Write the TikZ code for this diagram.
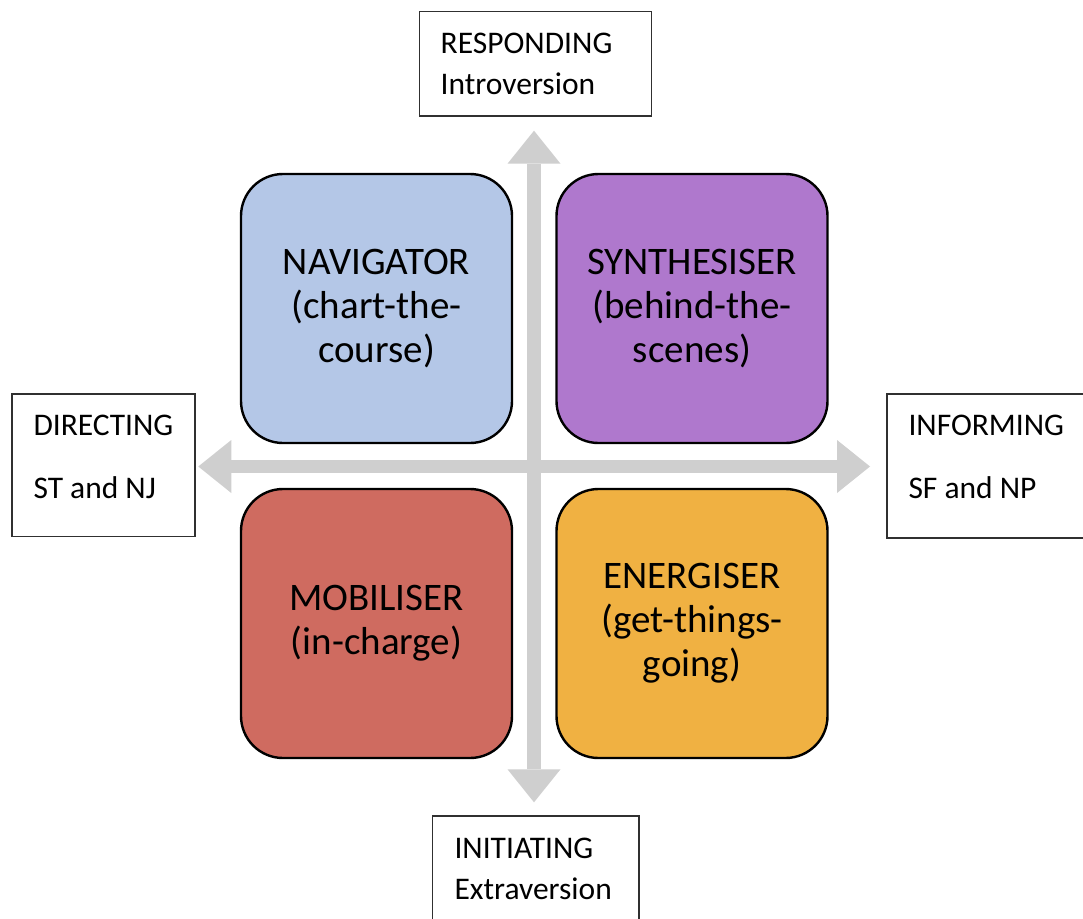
\documentclass[tikz,border=0pt]{standalone}
\usepackage{fontspec}
\setmainfont{Carlito}
\usetikzlibrary{arrows.meta}
\definecolor{navblue}{HTML}{B4C7E7}
\definecolor{synpurple}{HTML}{AF78CD}
\definecolor{mobred}{HTML}{CF6B60}
\definecolor{eneorange}{HTML}{F0B142}
\definecolor{axisgray}{HTML}{CFCFCF}
\definecolor{boxborder}{HTML}{303030}
\begin{document}
\begin{tikzpicture}[x=1pt,y=-1pt,
  rolebox/.style={draw=black,line width=2.4pt,rounded corners=42pt,
    minimum width=271pt,minimum height=269pt,inner sep=0pt,align=center,
    font=\fontsize{39}{44}\selectfont},
  labelbox/.style={draw=boxborder,line width=1.2pt,inner sep=0pt},
  labeltext/.style={anchor=base west,inner sep=0pt,font=\fontsize{31.5}{35}\selectfont},
  axis/.style={draw=axisgray,line width=13.5pt,
    {Triangle[width=53pt,length=33pt,line width=0pt]}-{Triangle[width=53pt,length=33pt,line width=0pt]}}
]
\useasboundingbox (0,0) rectangle (1083,918);
\fill[white] (0,0) rectangle (1083,918);

% axes
\coordinate (vtop) at (534,130.7);
\coordinate (vbot) at (534,802.3);
\coordinate (hleft) at (198.3,466.5);
\coordinate (hright) at (870,466.5);
\draw[axis] (vtop) -- (vbot);
\draw[axis] (hleft) -- (hright);

% role boxes
\node[rolebox,fill=navblue] (nav) at (376.5,308.5) {NAVIGATOR\\(chart-the-\\course)};
\node[rolebox,fill=synpurple] (syn) at (692,308.5) {SYNTHESISER\\(behind-the-\\scenes)};
\node[rolebox,fill=mobred] (mob) at (376.5,623.5) {MOBILISER\\(in-charge)};
\node[rolebox,fill=eneorange] (ene) at (692,623.5) {ENERGISER\\(get-things-\\going)};

% label boxes
\node[labelbox,minimum width=232pt,minimum height=104.5pt] (resp) at (535.5,63.75) {};
\node[labeltext] (respA) at (440.5,53) {RESPONDING};
\node[labeltext] (respB) at (440.5,94) {Introversion};

\node[labelbox,minimum width=183pt,minimum height=142.5pt] (dir) at (103.5,465.25) {};
\node[labeltext] (dirA) at (33.3,435) {DIRECTING};
\node[labeltext] (dirB) at (33.3,498) {ST and NJ};

\node[labelbox,minimum width=197pt,minimum height=144pt] (inf) at (985.5,466) {};
\node[labeltext] (infA) at (908.3,435) {INFORMING};
\node[labeltext] (infB) at (908.3,498) {SF and NP};

\node[labelbox,minimum width=206.5pt,minimum height=115pt] (init) at (535.75,873.5) {};
\node[labeltext] (initA) at (454.3,858) {INITIATING};
\node[labeltext] (initB) at (454.3,899) {Extraversion};
\end{tikzpicture}
\end{document}
